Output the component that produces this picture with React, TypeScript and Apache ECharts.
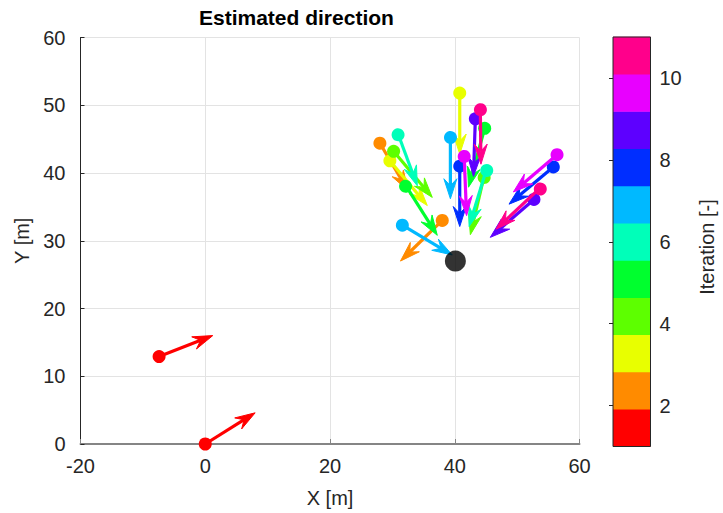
import React, { useEffect, useRef } from "react";
import * as echarts from "echarts";

// Iteration number of each estimate
const iteration = [1, 1, 2, 2, 3, 3, 4, 4, 5, 5, 6, 6, 7, 7, 8, 8, 9, 9, 10, 10, 11, 11];
// Start positions [m]
const startX = [0.0, -7.4, 28.0, 38.0, 40.8, 29.6, 44.7, 30.2, 44.8, 32.1, 30.9, 45.1, 39.3, 31.6, 40.8, 55.8, 43.3, 52.7, 41.5, 56.4, 44.1, 53.7];
const startY = [0.0, 12.9, 44.4, 33.0, 51.8, 41.8, 39.5, 43.2, 46.6, 38.2, 45.8, 40.6, 45.4, 32.3, 41.0, 40.9, 48.0, 36.1, 42.6, 42.7, 49.5, 37.8];
// Estimated direction vectors [m]
const dirU = [8.0, 8.6, 4.5, -6.7, 0.0, 6.0, -2.2, 6.2, -2.6, 5.1, 3.1, -2.8, 0.0, 8.0, 0.0, -7.1, -0.3, -7.0, 0.4, -7.0, 0.1, -7.1];
const dirV = [4.6, 3.1, -7.0, -6.0, -9.0, -6.6, -8.6, -6.8, -8.7, -7.4, -7.7, -8.5, -9.2, -4.4, -8.9, -5.5, -8.5, -5.6, -8.9, -5.5, -8.2, -6.1];
// Target
const targetX = [40.1];
const targetY = [27.0];
// Colorbar
const colorbarTicks = [2, 4, 6, 8, 10];
const iterMin = 1;
const iterMax = 11;
const hsvColors = [
  "#FF0000", "#FF8B00", "#E8FF00", "#5DFF00", "#00FF2E", "#00FFB9",
  "#00B9FF", "#002EFF", "#5D00FF", "#E800FF", "#FF008B",
];
const xTicks = [-20, 0, 20, 40, 60];
const yTicks = [0, 10, 20, 30, 40, 50, 60];

const FONT = "'Liberation Sans', Arial, Helvetica, sans-serif";
const TXT = "#262626";

function colorFor(it: number) {
  const n = hsvColors.length;
  let idx = Math.floor(((it - iterMin) / (iterMax - iterMin)) * n);
  if (idx >= n) idx = n - 1;
  if (idx < 0) idx = 0;
  return hsvColors[idx];
}

export default function App() {
  const ref = useRef<HTMLDivElement>(null);
  useEffect(() => {
    if (!ref.current) return;
    const chart = echarts.init(ref.current, undefined, { renderer: "svg" });

    const arrowData = iteration.map((it, i) => [startX[i], startY[i], dirU[i], dirV[i], it]);
    const cbData = hsvColors.map((_, i) => [i]);

    const option: any = {
      animation: false,
      backgroundColor: "#ffffff",
      textStyle: { fontFamily: FONT },
      graphic: [
        {
          type: "text",
          left: 309 - 110,
          top: 7,
          style: {
            text: "Estimated direction",
            fontFamily: FONT,
            fontWeight: "bold",
            fontSize: 21,
            fill: "#000",
            width: 220,
            align: "center",
          },
        },
        {
          type: "text",
          x: 707,
          y: 247,
          rotation: Math.PI / 2,
          style: {
            text: "Iteration [-]",
            fontFamily: FONT,
            fontSize: 20,
            fill: TXT,
            align: "center",
            verticalAlign: "middle",
          },
        },
      ],
      grid: [
        { left: 80.5, right: 143.5, top: 37.5, bottom: 66.5, containLabel: false },
        { left: 613, width: 37.5, top: 37, bottom: 66.5, show: true, borderColor: "#262626", borderWidth: 1, backgroundColor: "transparent", z: 5 },
      ],
      xAxis: [
        {
          type: "value",
          gridIndex: 0,
          min: -20,
          max: 60,
          interval: 20,
          name: "X [m]",
          nameLocation: "middle",
          nameGap: 44,
          nameTextStyle: { fontSize: 20, color: TXT, fontFamily: FONT },
          axisLine: { show: true, onZero: false, lineStyle: { color: "#858585", width: 2 } },
          axisTick: { show: true, inside: true, length: 5, lineStyle: { color: "#858585", width: 1 } },
          axisLabel: { fontSize: 20, color: TXT, margin: 12, fontFamily: FONT, customValues: xTicks },
          splitLine: { show: true, lineStyle: { color: "#e3e3e3", width: 1 } },
        },
        {
          type: "value",
          gridIndex: 1,
          min: 0,
          max: 1,
          show: false,
        },
      ],
      yAxis: [
        {
          type: "value",
          gridIndex: 0,
          min: 0,
          max: 60,
          interval: 10,
          name: "Y [m]",
          nameLocation: "middle",
          nameGap: 46,
          nameRotate: 90,
          nameTextStyle: { fontSize: 20, color: TXT, fontFamily: FONT },
          axisLine: { show: true, onZero: false, lineStyle: { color: "#262626", width: 1 } },
          axisTick: { show: true, inside: true, length: 4, lineStyle: { color: "#262626", width: 1 } },
          axisLabel: { fontSize: 20, color: TXT, margin: 15, fontFamily: FONT, customValues: yTicks },
          splitLine: { show: true, lineStyle: { color: "#e3e3e3", width: 1 } },
        },
        {
          type: "value",
          gridIndex: 1,
          position: "right",
          min: iterMin,
          max: iterMax,
          axisLine: { show: false },
          axisTick: { show: true, inside: true, length: 4, lineStyle: { color: "#262626" }, customValues: colorbarTicks },
          axisLabel: {
            fontSize: 20,
            color: TXT,
            margin: 9,
            fontFamily: FONT,
            customValues: colorbarTicks,
            formatter: (v: number) => (colorbarTicks.indexOf(v) >= 0 ? String(v) : ""),
          },
          splitLine: { show: false },
        },
      ],
      series: [
        {
          type: "custom",
          xAxisIndex: 0,
          yAxisIndex: 0,
          z: 3,
          clip: false,
          data: arrowData,
          renderItem: (params: any, api: any) => {
            const x = api.value(0);
            const y = api.value(1);
            const u = api.value(2);
            const v = api.value(3);
            const it = api.value(4);
            const color = colorFor(it);
            const p0 = api.coord([x, y]);
            const p1 = api.coord([x + u, y + v]);
            const dx = p1[0] - p0[0];
            const dy = p1[1] - p0[1];
            const L = Math.hypot(dx, dy) || 1;
            const ux = dx / L;
            const uy = dy / L;
            const nx = -uy;
            const ny = ux;
            const headLen = 20;
            const headW = 6.5;
            const notch = 13;
            const bx = p1[0] - ux * headLen;
            const by = p1[1] - uy * headLen;
            const sx = p1[0] - ux * notch;
            const sy = p1[1] - uy * notch;
            return {
              type: "group",
              children: [
                {
                  type: "line",
                  shape: { x1: p0[0], y1: p0[1], x2: sx, y2: sy },
                  style: { stroke: color, lineWidth: 3.2 },
                },
                {
                  type: "polygon",
                  shape: {
                    points: [
                      [p1[0], p1[1]],
                      [bx + nx * headW, by + ny * headW],
                      [sx, sy],
                      [bx - nx * headW, by - ny * headW],
                    ],
                  },
                  style: { fill: color, stroke: color, lineWidth: 1 },
                },
                {
                  type: "circle",
                  shape: { cx: p0[0], cy: p0[1], r: 6.5 },
                  style: { fill: color },
                },
              ],
            };
          },
        },
        {
          type: "scatter",
          xAxisIndex: 0,
          yAxisIndex: 0,
          z: 4,
          symbol: "circle",
          symbolSize: 21,
          itemStyle: { color: "#000000" },
          data: targetX.map((tx, i) => [tx, targetY[i]]),
        },
        {
          type: "custom",
          xAxisIndex: 1,
          yAxisIndex: 1,
          z: 2,
          data: cbData,
          renderItem: (params: any, api: any) => {
            const i = api.value(0);
            const step = (iterMax - iterMin) / hsvColors.length;
            const lo = iterMin + i * step;
            const hi = iterMin + (i + 1) * step;
            const pTL = api.coord([0, hi]);
            const pBR = api.coord([1, lo]);
            return {
              type: "rect",
              shape: {
                x: pTL[0],
                y: pTL[1] - 0.3,
                width: pBR[0] - pTL[0],
                height: pBR[1] - pTL[1] + 0.6,
              },
              style: { fill: hsvColors[i] },
            };
          },
        },
      ],
    };
    chart.setOption(option);
    return () => chart.dispose();
  }, []);
  return <div ref={ref} style={{ width: 723, height: 513, position: "absolute", left: 0, top: 0 }} />;
}
